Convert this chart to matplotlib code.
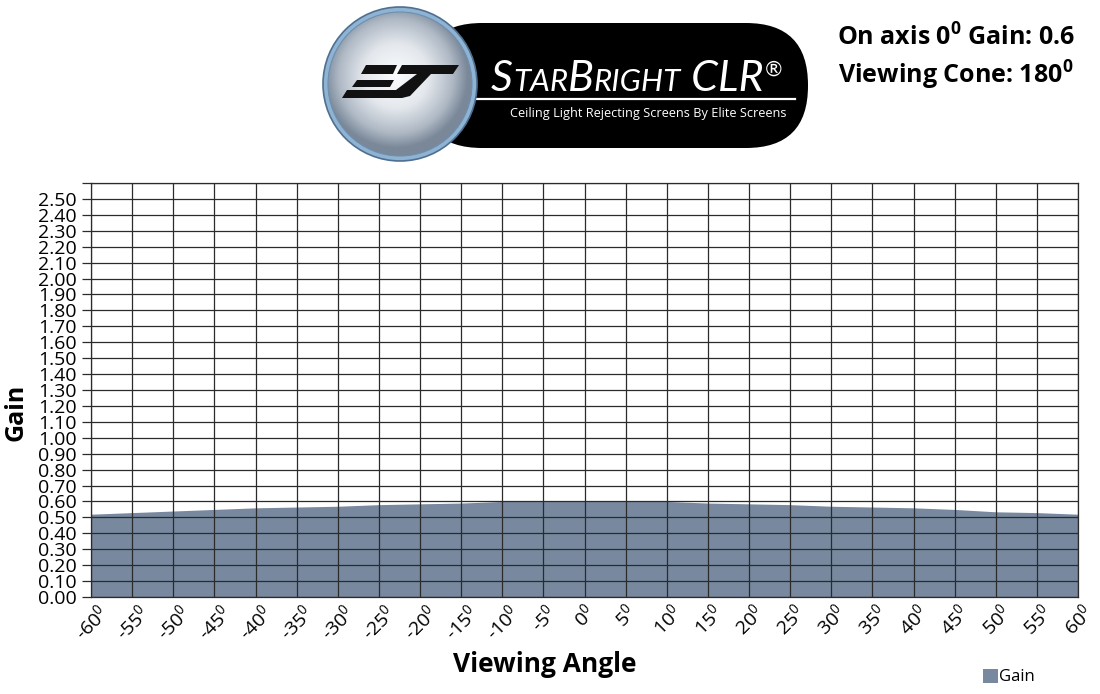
import numpy as np
import matplotlib
matplotlib.use('Agg')
import matplotlib.pyplot as plt
from matplotlib.patches import Circle, Rectangle, Polygon, FancyBboxPatch
from matplotlib.colors import LinearSegmentedColormap

plt.rcParams['font.family'] = ['Open Sans', 'DejaVu Sans']
plt.rcParams['mathtext.fontset'] = 'custom'
plt.rcParams['mathtext.rm'] = 'Open Sans'
plt.rcParams['mathtext.bf'] = 'Open Sans:bold'
plt.rcParams['mathtext.it'] = 'Open Sans:italic'

# ---- data ----
angles = [-60, -55, -50, -45, -40, -35, -30, -25, -20, -15, -10, -5, 0,
          5, 10, 15, 20, 25, 30, 35, 40, 45, 50, 55, 60]
gain = [0.52, 0.53, 0.54, 0.55, 0.56, 0.565, 0.57, 0.58, 0.585, 0.59, 0.60, 0.60, 0.60,
        0.60, 0.60, 0.59, 0.585, 0.58, 0.57, 0.565, 0.56, 0.55, 0.535, 0.53, 0.52]
angle_labels = [f"{a}$^{{0}}$" for a in angles]
y_ticks = [round(i * 0.1, 2) for i in range(27)]
y_tick_labels = [f"{v:.2f}" for v in y_ticks[:-1]] + [""]
series_name = "Gain"
info_lines = [r"On axis 0$^{\mathbf{0}}$ Gain: 0.6", r"Viewing Cone: 180$^{\mathbf{0}}$"]

W, H = 1100, 694
FILL = '#78889e'
GRID = '#2b2b2b'

fig = plt.figure(figsize=(W / 100, H / 100), dpi=100)
ax = fig.add_axes([91 / W, 1 - 597 / H, (1078 - 91) / W, (597 - 183) / H])
ax.fill_between(angles, gain, 0, color=FILL, lw=0, zorder=1)
ax.set_xlim(-60, 60)
ax.set_ylim(0, 2.6)
ax.set_xticks(angles)
ax.set_xticklabels(angle_labels, rotation=45, ha='center', va='top', fontsize=14)
ax.set_yticks(y_ticks)
ax.set_yticklabels(y_tick_labels, fontsize=14)
ax.tick_params(axis='x', length=0, pad=3)
ax.tick_params(axis='y', length=6.5, width=0.9, color=GRID, pad=4)
ax.grid(True, color=GRID, lw=0.9, zorder=2)
ax.set_axisbelow(False)
for s in ax.spines.values():
    s.set_color(GRID)
    s.set_linewidth(0.9)
    s.set_zorder(3)

fig.text(16 / W, 1 - 412 / H, 'Gain', rotation=90, ha='center', va='center',
         fontsize=18, weight='bold')
fig.text(545 / W, 1 - 665 / H, 'Viewing Angle', ha='center', va='center',
         fontsize=19, weight='bold')
fig.text(956 / W, 1 - 38 / H, info_lines[0], ha='center', va='center', fontsize=18, weight='bold')
fig.text(956 / W, 1 - 75 / H, info_lines[1], ha='center', va='center', fontsize=18, weight='bold')

# ---- overlay in pixel coordinates ----
ov = fig.add_axes([0, 0, 1, 1])
ov.set_xlim(0, W)
ov.set_ylim(H, 0)
ov.axis('off')
ov.patch.set_visible(False)

# legend
ov.add_patch(Rectangle((983, 669), 15, 14, color=FILL, lw=0))
ov.text(999, 677, series_name, ha='left', va='center', fontsize=12)

# logo pill
pill = FancyBboxPatch((420, 23), 388, 125, boxstyle='round,pad=0,rounding_size=62',
                      fc='black', ec='none')
ov.add_patch(pill)
ov.plot([477, 795], [99, 99], color='white', lw=1.6)

# circle
cx, cy, R = 400, 84, 77
ov.add_patch(Circle((cx, cy), R, fc='#8fb3d3', ec='#4f6f90', lw=1.2, zorder=3))
inner = Circle((cx, cy), R - 5, fc='none', ec='#6d8fb0', lw=0.8, zorder=5)
ov.add_patch(inner)
n = 300
xs = np.linspace(cx - R, cx + R, n)
ys = np.linspace(cy - R, cy + R, n)
X, Y = np.meshgrid(xs, ys)
d = np.sqrt((X - (cx - 4)) ** 2 + (Y - (cy - 8)) ** 2) / (R - 5)
cmap = LinearSegmentedColormap.from_list('g', [(0, '#fbfcfd'), (0.45, '#e4e8ed'),
                                               (0.8, '#aeb8c4'), (1.0, '#7a8899')])
im = ov.imshow(np.clip(d, 0, 1), cmap=cmap, vmin=0, vmax=1,
               extent=(cx - R, cx + R, cy + R, cy - R), origin='upper',
               aspect='auto', zorder=4, interpolation='bilinear')
clipc = Circle((cx, cy), R - 5, transform=ov.transData)
im.set_clip_path(clipc)
ov.set_xlim(0, W)
ov.set_ylim(H, 0)

emb = [
    [(366, 65), (397, 65), (393, 74), (361, 74)],          # E top
    [(402, 65), (459, 65), (453, 74), (397, 74)],          # S top
    [(357, 80), (394, 80), (390, 87), (352, 87)],          # E middle
    [(347, 90), (400, 90), (395, 98), (342, 98)],          # bottom bar
    [(417, 74), (431, 74), (410, 96), (402, 98), (392, 98), (396, 90)],  # S stem
]
for p in emb:
    ov.add_patch(Polygon(p, closed=True, fc='#111111', ec='none', zorder=6))

# title with small caps
fig.canvas.draw()
r = fig.canvas.get_renderer()
x = 491
base = 91
pieces = [("S", 31), ("TAR", 22.5), ("B", 31), ("RIGHT", 22.5), (" CLR", 31)]
for s, size in pieces:
    t = ov.text(x, base, s, fontsize=size, style='italic', color='white',
                va='baseline', ha='left', family=['Lato', 'DejaVu Sans'], weight='normal')
    x += t.get_window_extent(r).width
ov.text(x + 1, base - 15, "\u00ae", fontsize=15, color='white', style='italic',
        va='baseline', ha='left', family=['Lato', 'DejaVu Sans'])
ov.text(648, 113, "Ceiling Light Rejecting Screens By Elite Screens", ha='center',
        va='center', fontsize=9.2, color='white')

fig.savefig('out.png', dpi=100)
